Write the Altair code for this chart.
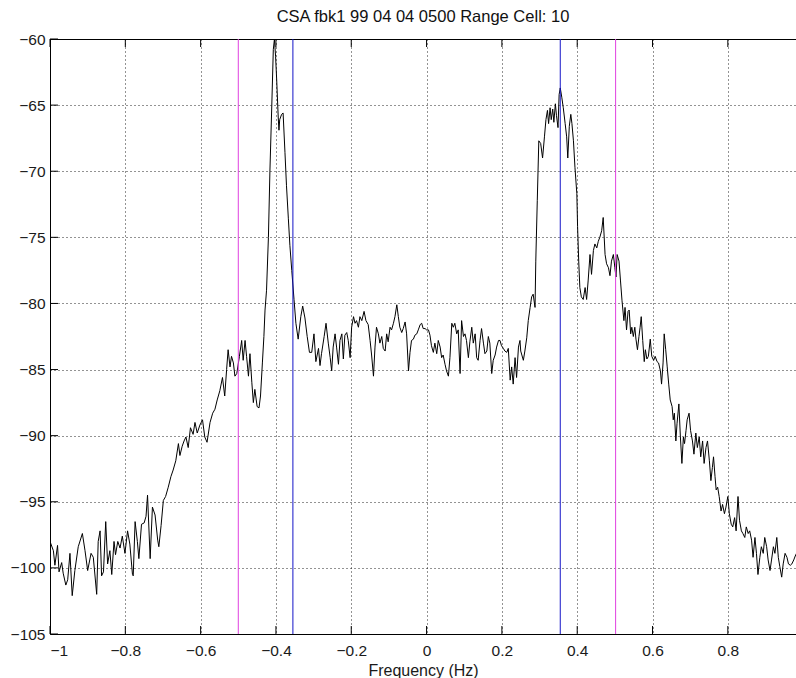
import altair as alt
import pandas as pd

TITLE = "CSA fbk1 99 04 04 0500 Range Cell: 10"
X_LABEL = "Frequency (Hz)"

# Doppler spectrum of range cell 10: frequency (Hz) and power (dB)
freq_hz = [
    -1.000, -0.991, -0.987, -0.980, -0.976, -0.969, -0.965, -0.958, -0.953, -0.947,
    -0.941, -0.934, -0.925, -0.914, -0.907, -0.900, -0.891, -0.885, -0.876, -0.872,
    -0.867, -0.863, -0.858, -0.852, -0.847, -0.841, -0.836, -0.830, -0.826, -0.820,
    -0.814, -0.808, -0.801, -0.794, -0.788, -0.781, -0.779, -0.774, -0.768, -0.764,
    -0.757, -0.750, -0.745, -0.741, -0.734, -0.728, -0.721, -0.714, -0.711, -0.705,
    -0.699, -0.693, -0.686, -0.679, -0.673, -0.666, -0.659, -0.655, -0.649, -0.644,
    -0.639, -0.633, -0.627, -0.620, -0.615, -0.609, -0.602, -0.595, -0.589, -0.583,
    -0.575, -0.568, -0.562, -0.556, -0.549, -0.542, -0.536, -0.531, -0.527, -0.522,
    -0.518, -0.513, -0.509, -0.504, -0.497, -0.491, -0.487, -0.482, -0.478, -0.473,
    -0.469, -0.464, -0.460, -0.456, -0.450, -0.445, -0.441, -0.436, -0.432, -0.429,
    -0.425, -0.420, -0.416, -0.411, -0.407, -0.404, -0.401, -0.398, -0.394, -0.392,
    -0.390, -0.385, -0.381, -0.376, -0.372, -0.367, -0.363, -0.358,
    -0.352, -0.347, -0.341, -0.334, -0.329, -0.323, -0.317, -0.311, -0.305, -0.299,
    -0.294, -0.287, -0.283, -0.279, -0.272, -0.267, -0.261, -0.256, -0.252, -0.248,
    -0.243, -0.239, -0.234, -0.230, -0.225, -0.221, -0.217, -0.212, -0.208, -0.203,
    -0.199, -0.194, -0.190, -0.186, -0.181, -0.177, -0.172, -0.166, -0.161, -0.155,
    -0.150, -0.146, -0.141, -0.137, -0.133, -0.128, -0.124, -0.119, -0.115, -0.110,
    -0.106, -0.102, -0.097, -0.093, -0.088, -0.084, -0.079, -0.075, -0.071, -0.066,
    -0.062, -0.057, -0.053, -0.048, -0.044, -0.040, -0.035, -0.031, -0.026, -0.022,
    -0.017, -0.013, -0.009, -0.004, 0.000, 0.005, 0.009, 0.013, 0.018, 0.022,
    0.027, 0.031, 0.036, 0.040, 0.044, 0.049, 0.053, 0.058, 0.062, 0.067,
    0.071, 0.075, 0.080, 0.084, 0.089, 0.093, 0.098, 0.102, 0.106, 0.111,
    0.115, 0.120, 0.124, 0.129, 0.133, 0.137, 0.142, 0.146, 0.151, 0.155,
    0.160, 0.164, 0.168, 0.173, 0.177, 0.182, 0.186, 0.191, 0.195, 0.199,
    0.204, 0.208, 0.213, 0.217, 0.222, 0.226, 0.230, 0.235, 0.239, 0.244,
    0.248,
    0.250, 0.257, 0.261, 0.266, 0.270, 0.275, 0.279, 0.283, 0.288, 0.290,
    0.294, 0.298, 0.303, 0.308, 0.313, 0.317, 0.321, 0.324, 0.328, 0.331,
    0.335, 0.338, 0.342, 0.345, 0.349, 0.352, 0.355, 0.359, 0.363, 0.368,
    0.372, 0.375, 0.379, 0.383, 0.386, 0.390, 0.394, 0.399, 0.401, 0.404,
    0.407, 0.411, 0.416, 0.421, 0.425, 0.429, 0.434, 0.438, 0.443, 0.447,
    0.452, 0.456, 0.460, 0.465, 0.469, 0.474, 0.478, 0.483, 0.487, 0.491,
    0.496, 0.500, 0.503, 0.506, 0.511, 0.515, 0.519,
    0.524, 0.527, 0.531, 0.535, 0.538, 0.542, 0.545, 0.549, 0.553, 0.556,
    0.560, 0.564, 0.567, 0.570, 0.574, 0.578, 0.581, 0.585, 0.589, 0.594,
    0.598, 0.603, 0.607, 0.612, 0.616, 0.621, 0.624, 0.628, 0.631, 0.635,
    0.639, 0.643, 0.647, 0.652, 0.655, 0.658, 0.662, 0.665, 0.670, 0.674,
    0.678, 0.682, 0.685, 0.689, 0.692, 0.697, 0.701, 0.706, 0.710, 0.715,
    0.719, 0.724, 0.728, 0.733, 0.737, 0.742, 0.746, 0.751, 0.755, 0.759,
    0.762, 0.766, 0.769, 0.773, 0.777, 0.782, 0.786, 0.791, 0.795, 0.800,
    0.804, 0.809, 0.813, 0.818, 0.822, 0.827, 0.831, 0.836, 0.840, 0.845,
    0.849, 0.854, 0.858, 0.863, 0.867, 0.872, 0.876, 0.880, 0.885, 0.889,
    0.894, 0.898, 0.903, 0.907, 0.912, 0.916, 0.921, 0.925, 0.930, 0.934,
    0.938, 0.943, 0.947, 0.952, 0.957, 0.961, 0.966, 0.970, 0.975, 0.979,
    0.984,
]

power_db = [
    -98.0, -98.7, -99.8, -98.3, -100.3, -99.6, -100.4, -101.3, -100.9, -98.9,
    -102.1, -100.2, -98.4, -97.4, -98.7, -100.2, -98.9, -99.2, -102.0, -98.0,
    -97.2, -100.6, -100.3, -96.5, -99.7, -98.7, -100.5, -98.0, -99.0, -98.0,
    -98.5, -97.6, -98.9, -97.2, -98.2, -100.5, -100.6, -96.5, -98.0, -99.3,
    -96.7, -96.6, -96.1, -94.5, -99.3, -95.4, -96.0, -97.9, -98.4, -96.8,
    -94.9, -94.6, -93.9, -93.1, -92.6, -91.9, -90.6, -91.5, -90.8, -90.4,
    -90.1, -90.9, -89.4, -89.9, -89.0, -89.8, -89.2, -88.8, -90.1, -90.5,
    -89.0, -88.3, -88.0, -87.3, -86.6, -85.6, -87.0, -85.0, -83.5, -84.8,
    -84.0, -84.5, -85.5, -85.3, -84.0, -82.8, -84.3, -82.8, -84.0, -85.5,
    -83.8, -86.0, -87.5, -86.5, -87.8, -87.9, -87.0, -84.5, -82.5, -80.5,
    -79.0, -75.0, -70.0, -65.0, -60.8, -60.0, -61.3, -63.1, -65.9, -66.9,
    -66.1, -65.7, -65.6, -68.6, -71.1, -73.6, -75.6, -77.5,
    -79.7, -81.5, -82.7, -81.0, -80.2, -81.1, -82.5, -83.7, -83.7, -82.3,
    -84.4, -83.4, -84.7, -83.8, -82.5, -81.5, -83.0, -84.1, -85.1, -83.3,
    -82.3, -83.3, -84.6, -82.8, -82.3, -84.2, -82.4, -82.2, -82.8, -84.1,
    -81.8, -81.0, -81.5, -81.3, -81.8, -81.0, -81.3, -80.6, -81.3, -81.6,
    -82.8, -83.9, -85.5, -83.3, -81.8, -82.3, -83.0, -82.5, -83.4, -83.6,
    -82.3, -82.9, -81.8, -82.0, -81.5, -81.0, -80.1, -81.0, -81.8, -82.2,
    -81.9, -81.4, -82.3, -85.1, -83.7, -82.8, -82.7, -82.4, -82.3, -82.0,
    -81.6, -81.5, -81.9, -81.9, -82.0, -82.0, -82.4, -83.2, -83.7, -83.0,
    -83.8, -82.8, -83.3, -84.1, -83.9, -84.6, -85.1, -85.5, -84.1, -81.5,
    -81.8, -81.5, -82.3, -82.0, -85.3, -81.3, -82.5, -82.3, -82.8, -84.1,
    -82.9, -81.8, -83.0, -82.3, -84.1, -84.3, -82.8, -81.9, -83.0, -83.8,
    -83.6, -82.5, -83.0, -85.3, -84.3, -83.9, -83.3, -82.8, -82.8, -83.2,
    -83.4, -83.6, -83.7, -83.4, -85.8, -84.8, -86.1, -84.1, -85.6, -83.3,
    -82.8,
    -83.6, -84.3, -83.6, -82.6, -81.3, -80.3, -79.5, -79.3, -80.3, -76.8,
    -72.2, -67.7, -67.9, -69.0, -67.4, -66.1, -65.4, -66.4, -65.2, -66.1,
    -65.3, -66.3, -64.9, -65.8, -66.7, -64.2, -63.7, -64.4, -65.2, -66.4,
    -67.4, -69.0, -66.6, -65.7, -66.4, -67.7, -69.7, -71.7, -74.2, -76.8,
    -78.8, -79.5, -79.7, -78.8, -79.7, -78.3, -76.3, -77.8, -76.0, -75.5,
    -75.8, -75.3, -75.0, -74.5, -73.5, -76.3, -77.0, -77.3, -77.9, -76.8,
    -76.3, -77.3, -78.0, -76.3, -76.8, -78.3, -79.8,
    -81.3, -80.3, -82.0, -80.6, -80.5, -82.3, -81.8, -82.5, -81.8, -82.7,
    -83.5, -82.5, -81.8, -81.0, -82.8, -84.4, -83.5, -84.2, -84.0, -82.7,
    -84.0, -84.3, -84.0, -84.4, -84.5, -85.1, -86.1, -84.5, -82.3, -83.5,
    -84.8, -86.1, -87.3, -87.8, -88.8, -88.3, -90.4, -89.1, -87.6, -90.1,
    -92.1, -90.1, -90.6, -89.6, -88.8, -88.3, -89.6, -90.4, -91.4, -89.8,
    -90.9, -90.1, -91.6, -90.4, -92.1, -90.9, -90.4, -91.9, -93.4, -92.4,
    -91.6, -93.1, -94.1, -93.9, -94.6, -95.7, -95.2, -95.9, -95.4, -94.6,
    -95.9, -96.7, -96.9, -96.2, -97.2, -94.6, -96.4, -97.2, -97.4, -97.7,
    -96.9, -97.4, -97.2, -97.9, -99.2, -97.7, -98.9, -100.5, -99.2, -98.4,
    -98.9, -97.7, -98.4, -99.4, -100.2, -99.4, -98.4, -98.9, -97.7, -99.2,
    -99.9, -100.7, -99.7, -98.9, -99.2, -99.7, -99.8, -99.7, -99.4, -99.1,
    -98.8,
]

assert len(freq_hz) == len(power_db)

x_ticks = [-1.0, -0.8, -0.6, -0.4, -0.2, 0.0, 0.2, 0.4, 0.6, 0.8]
y_ticks = [-105, -100, -95, -90, -85, -80, -75, -70, -65, -60]
bragg_hz = [-0.355, 0.355]      # first-order Bragg lines (blue)
window_hz = [-0.5, 0.502]       # analysis band limits (magenta)

x_domain = [-1.0, 0.981]
y_domain = [-105, -60]

W, H = 746, 595
FONT = "Liberation Sans"
TICK_LEN = 8

xs = alt.Scale(domain=x_domain, nice=False, zero=False)
ys = alt.Scale(domain=y_domain, nice=False, zero=False)

x_axis = alt.Axis(
    values=x_ticks, format="~g", title=X_LABEL, grid=True,
    labelPadding=21, labelBaseline="alphabetic",
    titleY=41, titleBaseline="alphabetic",
)
y_axis = alt.Axis(values=y_ticks, format="d", title="", grid=True, labelPadding=5)

# every layer uses the same field names and the same axis definitions,
# so the shared scales produce one clean pair of axes
x_enc = alt.X("freq:Q", scale=xs, axis=x_axis)
y_enc = alt.Y("power:Q", scale=ys, axis=y_axis)

spectrum_df = pd.DataFrame({"freq": freq_hz, "power": power_db})

spectrum = alt.Chart(spectrum_df).mark_line(
    color="black", strokeWidth=1, clip=True
).encode(x=x_enc, y=y_enc)

# inward tick marks on the bottom, top and left edges of the box
xt_df = pd.DataFrame({"freq": x_ticks})
yt_df = pd.DataFrame({"power": y_ticks})

bottom_ticks = alt.Chart(xt_df).mark_rule(color="black", strokeWidth=1).encode(
    x=x_enc, y=alt.value(H), y2=alt.value(H - TICK_LEN),
)
top_ticks = alt.Chart(xt_df).mark_rule(color="black", strokeWidth=1).encode(
    x=x_enc, y=alt.value(0), y2=alt.value(TICK_LEN),
)
left_ticks = alt.Chart(yt_df).mark_rule(color="black", strokeWidth=1).encode(
    y=y_enc, x=alt.value(0), x2=alt.value(TICK_LEN),
)
top_edge = alt.Chart(xt_df).mark_rule(color="black", strokeWidth=1).encode(
    x=alt.value(0), x2=alt.value(W), y=alt.value(0.5),
)

bragg = alt.Chart(pd.DataFrame({"freq": bragg_hz})).mark_rule(
    color="#1414c8", strokeWidth=1
).encode(x=x_enc)

window = alt.Chart(pd.DataFrame({"freq": window_hz})).mark_rule(
    color="#e040e0", strokeWidth=1
).encode(x=x_enc)

chart = alt.layer(
    spectrum, bottom_ticks, top_ticks, left_ticks, top_edge, bragg, window
).properties(
    width=W,
    height=H,
    background="white",
    autosize=alt.AutoSizeParams(type="none"),
    padding={"left": 50, "top": 39, "right": 0, "bottom": 44},
    title=alt.TitleParams(
        text=TITLE, font=FONT, fontSize=16.5, fontWeight="normal",
        color="#111111", anchor="middle", offset=7,
    ),
).configure_axis(
    labelFont=FONT, labelFontSize=15.5, labelColor="#1a1a1a",
    titleFont=FONT, titleFontSize=16, titleFontWeight="normal", titleColor="#1a1a1a",
    domainColor="black", domainWidth=1,
    ticks=False, tickSize=0,
    gridColor="black", gridDash=[1, 3], gridOpacity=0.85, gridWidth=1,
).configure_view(
    stroke="transparent"
)

chart.save("out.html", embed_options={"renderer": "svg", "actions": False})
